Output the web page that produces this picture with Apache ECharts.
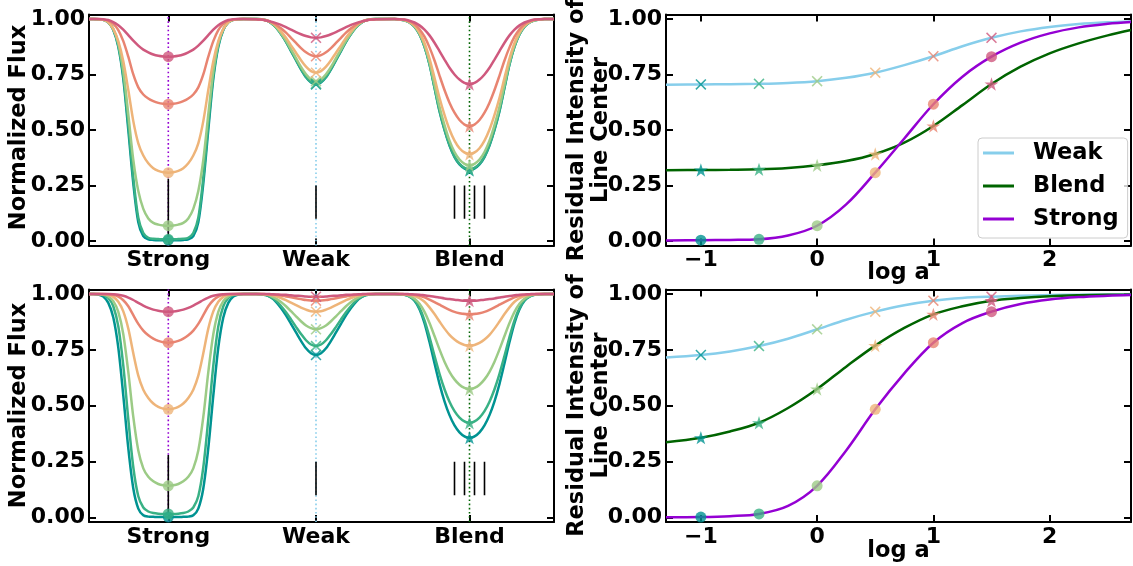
<!DOCTYPE html>
<html>
<head>
<meta charset="utf-8">
<script src="https://cdn.jsdelivr.net/npm/echarts@6/dist/echarts.min.js"></script>
<style>
  html, body { margin: 0; padding: 0; background: #ffffff; }
  #chart { width: 1133px; height: 566px; }
</style>
</head>
<body>
<div id="chart"></div>
<script>
// ---- parameters of the six models (log a) and their colours ----
const logA = [-1, -0.5, 0, 0.5, 1, 1.5];
const shades = ['#009392', '#39b185', '#9ccb86', '#eeb479', '#e88471', '#cf597e'];

// ---- spectral lines ----
const lineNames = ['Strong', 'Weak', 'Blend'];
const lineCenters = [15.86, 45.4, 76.1];
const lineColors = ['#9400d3', '#87ceeb', '#006400'];
const xLimit = [0, 93];
const yLimit = [-0.02, 1.02];
const yTicks = [0, 0.25, 0.5, 0.75, 1];

// component positions and heights drawn as sticks
const stickPos = [15.86, 45.4, 73.1, 75.1, 77.1, 79.1];
const stickLow = [0.02, 0.10, 0.10, 0.10, 0.10, 0.10];
const stickHigh = [0.28, 0.25, 0.25, 0.25, 0.25, 0.25];

// distance from line centre of each profile sample (profiles are symmetric)
const strongOffsets = [0, 1, 2, 3, 4, 5, 6, 7, 8, 9, 10, 11, 12, 13, 14, 15];
const weakOffsets = [0, 1, 2, 3, 4, 5, 6, 7, 8, 9, 10, 11, 12];
const blendOffsets = [0, 1, 2, 3, 4, 5, 6, 7, 8, 9, 10, 11, 12, 13, 14, 15];

// ---- upper row: profiles (one row per log a) ----
const topStrong = [
  [0.004, 0.004, 0.004, 0.005, 0.008, 0.022, 0.085, 0.260, 0.500, 0.730, 0.875, 0.950, 0.984, 0.996, 0.999, 1.0],
  [0.008, 0.008, 0.009, 0.010, 0.015, 0.036, 0.105, 0.285, 0.525, 0.745, 0.882, 0.953, 0.985, 0.996, 0.999, 1.0],
  [0.069, 0.070, 0.074, 0.082, 0.102, 0.145, 0.225, 0.365, 0.570, 0.765, 0.890, 0.955, 0.986, 0.996, 0.999, 1.0],
  [0.308, 0.310, 0.316, 0.328, 0.350, 0.385, 0.440, 0.540, 0.680, 0.810, 0.900, 0.955, 0.985, 0.996, 0.999, 1.0],
  [0.616, 0.618, 0.622, 0.630, 0.642, 0.660, 0.692, 0.750, 0.830, 0.900, 0.950, 0.978, 0.992, 0.998, 1.0, 1.0],
  [0.830, 0.831, 0.834, 0.840, 0.850, 0.862, 0.880, 0.902, 0.927, 0.952, 0.972, 0.986, 0.995, 0.999, 1.0, 1.0]
];
const topWeak = [
  [0.705, 0.714, 0.737, 0.773, 0.814, 0.855, 0.897, 0.932, 0.962, 0.982, 0.994, 0.999, 1.0],
  [0.708, 0.717, 0.740, 0.775, 0.816, 0.857, 0.898, 0.933, 0.962, 0.982, 0.994, 0.999, 1.0],
  [0.720, 0.728, 0.751, 0.784, 0.824, 0.863, 0.902, 0.936, 0.964, 0.983, 0.994, 0.999, 1.0],
  [0.758, 0.765, 0.785, 0.814, 0.848, 0.881, 0.915, 0.944, 0.969, 0.985, 0.995, 0.999, 1.0],
  [0.832, 0.837, 0.850, 0.869, 0.892, 0.915, 0.938, 0.958, 0.974, 0.986, 0.993, 0.997, 0.999],
  [0.915, 0.917, 0.923, 0.931, 0.941, 0.952, 0.963, 0.973, 0.981, 0.988, 0.993, 0.997, 0.999]
];
const topBlend = [
  [0.320, 0.327, 0.345, 0.378, 0.430, 0.500, 0.585, 0.690, 0.795, 0.875, 0.930, 0.965, 0.984, 0.994, 0.998, 1.0],
  [0.323, 0.330, 0.348, 0.381, 0.433, 0.503, 0.588, 0.692, 0.797, 0.876, 0.931, 0.965, 0.984, 0.994, 0.998, 1.0],
  [0.341, 0.348, 0.367, 0.401, 0.452, 0.522, 0.605, 0.705, 0.805, 0.882, 0.934, 0.967, 0.985, 0.994, 0.998, 1.0],
  [0.392, 0.399, 0.418, 0.452, 0.502, 0.568, 0.645, 0.735, 0.822, 0.892, 0.940, 0.970, 0.986, 0.995, 0.998, 1.0],
  [0.518, 0.525, 0.545, 0.578, 0.623, 0.680, 0.745, 0.813, 0.872, 0.920, 0.954, 0.976, 0.989, 0.996, 0.999, 1.0],
  [0.707, 0.712, 0.727, 0.750, 0.780, 0.817, 0.855, 0.893, 0.926, 0.952, 0.971, 0.984, 0.992, 0.997, 0.999, 1.0]
];

// ---- lower row: profiles ----
const botStrong = [
  [0.002, 0.002, 0.002, 0.003, 0.004, 0.010, 0.040, 0.130, 0.310, 0.545, 0.760, 0.895, 0.960, 0.988, 0.997, 1.0],
  [0.016, 0.016, 0.017, 0.020, 0.027, 0.045, 0.095, 0.225, 0.440, 0.680, 0.855, 0.945, 0.982, 0.995, 0.999, 1.0],
  [0.142, 0.144, 0.150, 0.162, 0.182, 0.220, 0.300, 0.450, 0.650, 0.820, 0.920, 0.968, 0.989, 0.997, 1.0, 1.0],
  [0.484, 0.487, 0.495, 0.510, 0.535, 0.572, 0.635, 0.735, 0.845, 0.922, 0.965, 0.987, 0.996, 0.999, 1.0, 1.0],
  [0.782, 0.784, 0.790, 0.800, 0.815, 0.836, 0.866, 0.905, 0.945, 0.972, 0.988, 0.996, 0.999, 1.0, 1.0, 1.0],
  [0.921, 0.922, 0.925, 0.930, 0.938, 0.948, 0.960, 0.973, 0.984, 0.992, 0.997, 0.999, 1.0, 1.0, 1.0, 1.0]
];
const botWeak = [
  [0.727, 0.735, 0.757, 0.790, 0.828, 0.866, 0.904, 0.937, 0.965, 0.984, 0.995, 0.999, 1.0],
  [0.767, 0.774, 0.793, 0.821, 0.853, 0.886, 0.918, 0.946, 0.970, 0.986, 0.995, 0.999, 1.0],
  [0.842, 0.847, 0.859, 0.878, 0.900, 0.923, 0.945, 0.964, 0.979, 0.991, 0.997, 0.999, 1.0],
  [0.921, 0.923, 0.930, 0.939, 0.950, 0.961, 0.972, 0.982, 0.990, 0.995, 0.998, 1.0, 1.0],
  [0.970, 0.971, 0.973, 0.977, 0.981, 0.985, 0.989, 0.993, 0.996, 0.998, 0.999, 1.0, 1.0],
  [0.988, 0.988, 0.989, 0.991, 0.992, 0.994, 0.996, 0.997, 0.998, 0.999, 1.0, 1.0, 1.0]
];
const botBlend = [
  [0.357, 0.363, 0.381, 0.412, 0.458, 0.520, 0.598, 0.690, 0.785, 0.870, 0.932, 0.970, 0.988, 0.996, 0.999, 1.0],
  [0.424, 0.430, 0.447, 0.476, 0.518, 0.574, 0.643, 0.723, 0.807, 0.882, 0.938, 0.972, 0.989, 0.996, 0.999, 1.0],
  [0.575, 0.580, 0.594, 0.618, 0.652, 0.697, 0.752, 0.812, 0.870, 0.920, 0.956, 0.979, 0.991, 0.997, 0.999, 1.0],
  [0.769, 0.772, 0.781, 0.796, 0.817, 0.845, 0.877, 0.910, 0.940, 0.965, 0.981, 0.991, 0.996, 0.999, 1.0, 1.0],
  [0.909, 0.910, 0.914, 0.920, 0.929, 0.940, 0.952, 0.964, 0.975, 0.985, 0.992, 0.996, 0.998, 0.999, 1.0, 1.0],
  [0.970, 0.970, 0.972, 0.974, 0.977, 0.980, 0.984, 0.988, 0.991, 0.994, 0.997, 0.998, 0.999, 1.0, 1.0, 1.0]
];

// ---- residual intensity at line centre versus log a ----
const logAGrid = [-1.3, -1.0, -0.75, -0.5, -0.25, 0, 0.25, 0.5, 0.75, 1.0, 1.25, 1.5, 1.75, 2.0, 2.25, 2.5, 2.7];
const logALimit = [-1.3, 2.7];
const logATicks = [-1, 0, 1, 2];

const topWeakCurve   = [0.704, 0.705, 0.706, 0.708, 0.712, 0.720, 0.735, 0.758, 0.792, 0.832, 0.877, 0.915, 0.944, 0.964, 0.977, 0.985, 0.989];
const topBlendCurve  = [0.319, 0.320, 0.321, 0.323, 0.329, 0.341, 0.360, 0.392, 0.443, 0.518, 0.612, 0.707, 0.785, 0.845, 0.890, 0.926, 0.950];
const topStrongCurve = [0.003, 0.004, 0.005, 0.008, 0.025, 0.069, 0.165, 0.308, 0.462, 0.616, 0.740, 0.830, 0.893, 0.935, 0.962, 0.978, 0.986];

const botWeakCurve   = [0.716, 0.727, 0.743, 0.767, 0.800, 0.842, 0.885, 0.921, 0.950, 0.970, 0.982, 0.988, 0.992, 0.995, 0.997, 0.998, 0.998];
const botBlendCurve  = [0.337, 0.357, 0.385, 0.424, 0.490, 0.575, 0.675, 0.769, 0.848, 0.909, 0.945, 0.970, 0.982, 0.990, 0.994, 0.996, 0.997];
const botStrongCurve = [0.001, 0.002, 0.006, 0.016, 0.052, 0.142, 0.300, 0.484, 0.645, 0.782, 0.870, 0.921, 0.955, 0.975, 0.986, 0.992, 0.995];

// line-centre values marked for each log a
const topStrongCentre = [0.004, 0.008, 0.069, 0.308, 0.616, 0.830];
const topWeakCentre   = [0.705, 0.708, 0.720, 0.758, 0.832, 0.915];
const topBlendCentre  = [0.320, 0.323, 0.341, 0.392, 0.518, 0.707];
const botStrongCentre = [0.002, 0.016, 0.142, 0.484, 0.782, 0.921];
const botWeakCentre   = [0.727, 0.767, 0.842, 0.921, 0.970, 0.988];
const botBlendCentre  = [0.357, 0.424, 0.575, 0.769, 0.909, 0.970];

// ---- drawing ----
const FONT = 'DejaVu Sans';
const TICK_FONT = 22;
const LABEL_FONT = 22.5;

const SYM_CROSS = 'path://M0,1L1,0L5,4L9,0L10,1L6,5L10,9L9,10L5,6L1,10L0,9L4,5Z';
const SYM_STAR = 'path://M50,0L61.23,34.55L97.55,34.55L68.16,55.9L79.39,90.45L50,69.1L20.61,90.45L31.84,55.9L2.45,34.55L38.77,34.55Z';
const lineSymbols = ['circle', SYM_CROSS, SYM_STAR];
const lineSymbolSizes = [11, 11, [14, 13.3]];

const grids = [
  { left: 89,  top: 14.5,  width: 465, height: 231 },
  { left: 666, top: 14.5,  width: 465, height: 231 },
  { left: 89,  top: 289.5, width: 465, height: 232.5 },
  { left: 666, top: 289.5, width: 465, height: 232.5 }
];

function nearestIndex(arr, v) {
  let best = 0;
  arr.forEach((a, i) => { if (Math.abs(a - v) < Math.abs(arr[best] - v)) best = i; });
  return best;
}

const spine = { show: true, onZero: false, lineStyle: { color: '#000', width: 2 } };
const tickBase = { show: true, inside: true, length: 7, lineStyle: { color: '#000', width: 2 } };
const labelBase = { fontFamily: FONT, fontWeight: 'bold', fontSize: TICK_FONT, color: '#000' };

const xAxes = [];
const yAxes = [];
grids.forEach((g, gi) => {
  const profile = gi % 2 === 0;
  const lim = profile ? xLimit : logALimit;
  const ticks = profile ? lineCenters : logATicks;
  const fmt = profile
    ? (v => lineNames[nearestIndex(lineCenters, v)])
    : (v => (v < 0 ? '\u2212' + Math.abs(v) : String(v)));
  xAxes.push({
    type: 'value', gridIndex: gi, position: 'bottom', min: lim[0], max: lim[1],
    axisLine: spine, splitLine: { show: false },
    axisTick: Object.assign({ customValues: ticks }, tickBase),
    axisLabel: Object.assign({ customValues: ticks, formatter: fmt, margin: 4 }, labelBase)
  });
  xAxes.push({
    type: 'value', gridIndex: gi, position: 'top', min: lim[0], max: lim[1],
    axisLine: spine, splitLine: { show: false },
    axisTick: Object.assign({ customValues: ticks }, tickBase),
    axisLabel: { show: false }
  });
  yAxes.push({
    type: 'value', gridIndex: gi, position: 'left', min: yLimit[0], max: yLimit[1],
    axisLine: spine, splitLine: { show: false },
    axisTick: Object.assign({ customValues: yTicks }, tickBase),
    axisLabel: Object.assign({ customValues: yTicks, formatter: v => v.toFixed(2), margin: 4 }, labelBase)
  });
  yAxes.push({
    type: 'value', gridIndex: gi, position: 'right', min: yLimit[0], max: yLimit[1],
    axisLine: spine, splitLine: { show: false },
    axisTick: Object.assign({ customValues: yTicks }, tickBase),
    axisLabel: { show: false }
  });
});

const series = [];

// full profile from a symmetric half profile around a centre
function mirrored(centre, offsets, values) {
  const pts = [];
  for (let i = offsets.length - 1; i > 0; i--) pts.push([centre - offsets[i], values[i]]);
  for (let i = 0; i < offsets.length; i++) pts.push([centre + offsets[i], values[i]]);
  return pts;
}

function profilePanel(gi, strong, weak, blend, centres) {
  const ax = { xAxisIndex: 2 * gi, yAxisIndex: 2 * gi };
  // dotted line at each line centre
  lineCenters.forEach((c, j) => {
    series.push(Object.assign({
      type: 'line', silent: true, symbol: 'none', animation: false, z: 1,
      data: [[c, yLimit[0]], [c, yLimit[1]]],
      lineStyle: { color: lineColors[j], width: 1.6, type: [1.6, 2.6] }
    }, ax));
  });
  // component sticks
  stickPos.forEach((p, s) => {
    series.push(Object.assign({
      type: 'line', silent: true, symbol: 'none', animation: false, z: 2,
      data: [[p, stickLow[s]], [p, stickHigh[s]]],
      lineStyle: { color: '#000', width: 1.6 }
    }, ax));
  });
  // flux profiles
  logA.forEach((la, k) => {
    const pts = [[xLimit[0], 1]]
      .concat(mirrored(lineCenters[0], strongOffsets, strong[k]))
      .concat(mirrored(lineCenters[1], weakOffsets, weak[k]))
      .concat(mirrored(lineCenters[2], blendOffsets, blend[k]))
      .concat([[xLimit[1], 1]]);
    series.push(Object.assign({
      type: 'line', name: 'log a = ' + la, symbol: 'none', animation: false, z: 3,
      smooth: 0.3, data: pts,
      lineStyle: { color: shades[k], width: 2.5 }, itemStyle: { color: shades[k] }
    }, ax));
  });
  // markers at line centre
  lineCenters.forEach((c, j) => {
    series.push(Object.assign({
      type: 'scatter', animation: false, z: 4,
      symbol: lineSymbols[j], symbolSize: lineSymbolSizes[j],
      data: centres[j].map((v, k) => ({ value: [c, v], itemStyle: { color: shades[k] } }))
    }, ax));
  });
}

function growthPanel(gi, curves, centres) {
  const ax = { xAxisIndex: 2 * gi, yAxisIndex: 2 * gi };
  // curves in legend order: Weak, Blend, Strong
  [1, 2, 0].forEach(j => {
    series.push(Object.assign({
      type: 'line', name: lineNames[j], symbol: 'none', animation: false, z: 3,
      smooth: 0.35, color: lineColors[j],
      data: logAGrid.map((x, i) => [x, curves[j][i]]),
      lineStyle: { color: lineColors[j], width: 2.5 }
    }, ax));
  });
  [1, 2, 0].forEach(j => {
    series.push(Object.assign({
      type: 'scatter', name: lineNames[j] + ' centre', animation: false, z: 4,
      symbol: lineSymbols[j], symbolSize: lineSymbolSizes[j],
      data: centres[j].map((v, k) => ({ value: [logA[k], v], itemStyle: { color: shades[k] } }))
    }, ax));
  });
}

profilePanel(0, topStrong, topWeak, topBlend, [topStrongCentre, topWeakCentre, topBlendCentre]);
growthPanel(1, [topStrongCurve, topWeakCurve, topBlendCurve], [topStrongCentre, topWeakCentre, topBlendCentre]);
profilePanel(2, botStrong, botWeak, botBlend, [botStrongCentre, botWeakCentre, botBlendCentre]);
growthPanel(3, [botStrongCurve, botWeakCurve, botBlendCurve], [botStrongCentre, botWeakCentre, botBlendCentre]);

function axisTitle(x, y, text, rotate) {
  return {
    type: 'text', x: x, y: y, rotation: rotate ? Math.PI / 2 : 0, silent: true,
    style: {
      text: text, fill: '#000', align: 'center', verticalAlign: 'middle',
      fontFamily: FONT, fontWeight: 'bold', fontSize: LABEL_FONT, lineHeight: 24
    }
  };
}

const option = {
  backgroundColor: '#ffffff',
  animation: false,
  grid: grids,
  xAxis: xAxes,
  yAxis: yAxes,
  series: series,
  legend: {
    show: true,
    data: ['Weak', 'Blend', 'Strong'],
    orient: 'vertical',
    left: 978, top: 138,
    icon: 'rect', itemWidth: 31, itemHeight: 3, itemGap: 7,
    padding: [2, 9, 6, 5],
    borderColor: '#cccccc', borderWidth: 1, borderRadius: 4,
    backgroundColor: 'rgba(255,255,255,0.8)',
    selectedMode: false,
    textStyle: { fontFamily: FONT, fontWeight: 'bold', fontSize: LABEL_FONT, lineHeight: 26, color: '#000', padding: [0, 0, 0, 14] }
  },
  graphic: [
    axisTitle(19, 127.5, 'Normalized Flux', true),
    axisTitle(19, 405.5, 'Normalized Flux', true),
    axisTitle(589, 130, 'Residual Intensity of\nLine Center', true),
    axisTitle(589, 405.5, 'Residual Intensity of\nLine Center', true),
    axisTitle(898.5, 273, 'log a', false),
    axisTitle(898.5, 551, 'log a', false)
  ]
};

const chart = echarts.init(document.getElementById('chart'), null, { renderer: 'canvas' });
chart.setOption(option);
</script>
</body>
</html>
